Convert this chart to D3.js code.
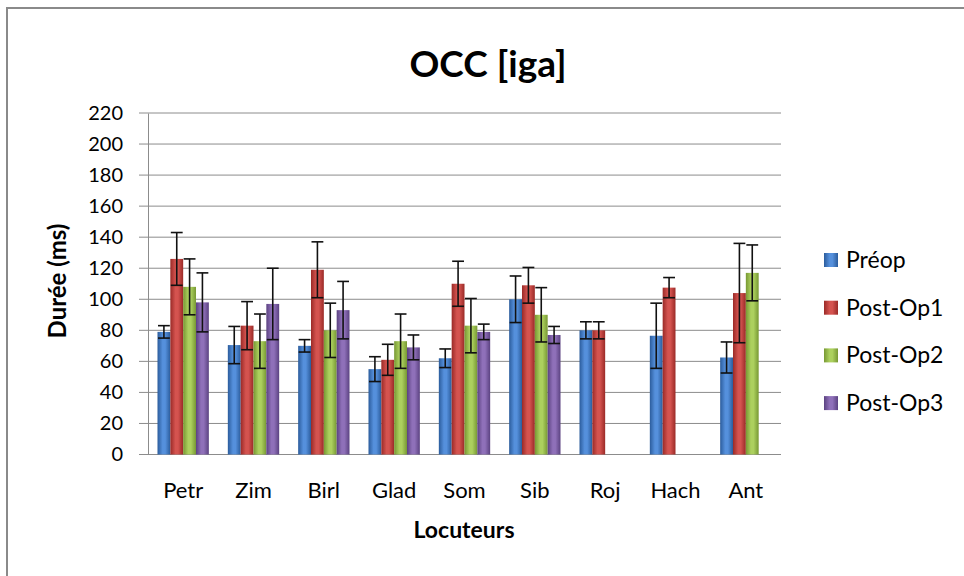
<!DOCTYPE html>
<html>
<head>
<meta charset="utf-8">
<script src="https://cdn.jsdelivr.net/npm/d3@7"></script>
<style>
  html, body { margin: 0; padding: 0; background: #fff; overflow: hidden; }
  svg { display: block; }
  text { font-family: Lato, "Open Sans", sans-serif; fill: #000; }
</style>
</head>
<body>
<div id="chart"></div>
<script>
// Data
const categories = ["Petr", "Zim", "Birl", "Glad", "Som", "Sib", "Roj", "Hach", "Ant"];
const series = ["Préop", "Post-Op1", "Post-Op2", "Post-Op3"];

const preop      = [79, 70.5, 70, 55, 62, 100, 80, 76.5, 62.5];
const preopErr   = [4, 12, 4, 8, 6, 15, 5.5, 21, 10];
const postOp1    = [126, 83, 119, 61, 110, 109, 80, 107.5, 104];
const postOp1Err = [17, 15.5, 18, 10, 14.5, 11.5, 5.5, 6.5, 32];
const postOp2    = [108, 73, 80, 73, 83, 90, null, null, 117];
const postOp2Err = [18, 17.5, 17.5, 17.5, 17.5, 17.5, null, null, 18];
const postOp3    = [98, 97, 93, 69, 79, 77, null, null, null];
const postOp3Err = [19, 23, 18.5, 8, 5, 5.5, null, null, null];

const yTicks = [0, 20, 40, 60, 80, 100, 120, 140, 160, 180, 200, 220];

const values = [preop, postOp1, postOp2, postOp3];
const errors = [preopErr, postOp1Err, postOp2Err, postOp3Err];

// colours: [edge, centre]
const colors = [
    ["#2b5c9c", "#5590dc"],
    ["#9a2a27", "#d4534f"],
    ["#779833", "#acd05e"],
    ["#5b4281", "#8f70b9"]
];

// Dimensions
const width = 964;
const height = 576;
const plotLeft = 148;
const plotRight = 781;
const plotTop = 113;
const plotBottom = 454.5;

const svg = d3.select("#chart")
    .append("svg")
    .attr("width", width)
    .attr("height", height);

// gradients for the cylinder look
const defs = svg.append("defs");
colors.forEach((c, i) => {
    const g = defs.append("linearGradient")
        .attr("id", "grad" + i)
        .attr("x1", "0%").attr("x2", "100%")
        .attr("y1", "0%").attr("y2", "0%");
    g.append("stop").attr("offset", "0%").attr("stop-color", c[0]);
    g.append("stop").attr("offset", "40%").attr("stop-color", c[1]);
    g.append("stop").attr("offset", "60%").attr("stop-color", c[1]);
    g.append("stop").attr("offset", "100%").attr("stop-color", c[0]);
});

// outer frame (only top and left edges are visible in the crop)
svg.append("path")
    .attr("d", `M7,${height} L7,8 L${width},8`)
    .attr("fill", "none")
    .attr("stroke", "#8a8a8a")
    .attr("stroke-width", 2);

// Title
svg.append("text")
    .attr("x", 488)
    .attr("y", 77)
    .attr("text-anchor", "middle")
    .attr("font-size", "37px")
    .attr("font-weight", "bold")
    .text("OCC [iga]");

// Scales (absolute pixel ranges)
const x0 = d3.scaleBand()
    .domain(categories)
    .range([plotLeft, plotRight])
    .paddingInner(0.27)
    .paddingOuter(0.135);

const x1 = d3.scaleBand()
    .domain(series)
    .range([0, x0.bandwidth()]);

const yScale = d3.scaleLinear()
    .domain([0, 220])
    .range([plotBottom, plotTop]);

// gridlines
svg.append("g").attr("class", "grid")
    .selectAll("line")
    .data(yTicks)
    .join("line")
    .attr("x1", plotLeft - 9)
    .attr("x2", plotRight)
    .attr("y1", d => yScale(d))
    .attr("y2", d => yScale(d))
    .attr("stroke", "#8c8c8c")
    .attr("stroke-width", 1);

// y axis line
const gYAxis = svg.append("g")
    .attr("transform", `translate(${plotLeft}, 0)`)
    .call(d3.axisLeft(yScale).tickValues(yTicks).tickSize(0).tickFormat(""));
gYAxis.select(".domain").attr("stroke", "#8c8c8c");

// y tick labels
svg.append("g").attr("class", "y-labels")
    .selectAll("text")
    .data(yTicks)
    .join("text")
    .attr("x", plotLeft - 25)
    .attr("y", d => yScale(d))
    .attr("dy", "0.34em")
    .attr("text-anchor", "end")
    .attr("font-size", "20px")
    .text(d => d);

// x axis labels
svg.append("g")
    .selectAll("text")
    .data(categories)
    .join("text")
    .attr("x", d => x0(d) + x0.bandwidth() / 2)
    .attr("y", plotBottom + 43)
    .attr("text-anchor", "middle")
    .attr("font-size", "22px")
    .text(d => d);

// bars
const barData = [];
categories.forEach((cat, ci) => {
    series.forEach((s, si) => {
        const v = values[si][ci];
        if (v != null) {
            barData.push({ cat, s, si, value: v, err: errors[si][ci] });
        }
    });
});

const gChart = svg.append("g").attr("class", "chart");

gChart.selectAll("rect.bar")
    .data(barData)
    .join("rect")
    .attr("class", "bar")
    .attr("x", d => x0(d.cat) + x1(d.s))
    .attr("y", d => yScale(d.value))
    .attr("width", x1.bandwidth())
    .attr("height", d => yScale(0) - yScale(d.value))
    .attr("fill", d => `url(#grad${d.si})`);

// error bars
const cx = d => x0(d.cat) + x1(d.s) + x1.bandwidth() / 2;
const capHalf = x1.bandwidth() / 2 - 0.5;
const gErr = gChart.selectAll("g.err")
    .data(barData)
    .join("g")
    .attr("class", "err")
    .attr("stroke", "#111")
    .attr("stroke-width", 1.6);

gErr.append("line")
    .attr("x1", cx)
    .attr("x2", cx)
    .attr("y1", d => yScale(d.value + d.err))
    .attr("y2", d => yScale(d.value - d.err));

[1, -1].forEach(sign => {
    gErr.append("line")
        .attr("x1", d => cx(d) - capHalf)
        .attr("x2", d => cx(d) + capHalf)
        .attr("y1", d => yScale(d.value + sign * d.err))
        .attr("y2", d => yScale(d.value + sign * d.err));
});

// axis titles
svg.append("text")
    .attr("x", 66)
    .attr("y", 281)
    .attr("transform", "rotate(-90, 66, 281)")
    .attr("text-anchor", "middle")
    .attr("font-size", "24px")
    .attr("font-weight", "bold")
    .text("Durée (ms)");

svg.append("text")
    .attr("x", 464)
    .attr("y", 538)
    .attr("text-anchor", "middle")
    .attr("font-size", "23px")
    .attr("font-weight", "bold")
    .text("Locuteurs");

// legend
const legendY = d3.scalePoint()
    .domain(series)
    .range([260, 260 + 3 * 47.7]);

const legend = svg.append("g").attr("class", "legend");

legend.selectAll("rect")
    .data(series)
    .join("rect")
    .attr("x", 824)
    .attr("y", d => legendY(d) - 7)
    .attr("width", 14)
    .attr("height", 14)
    .attr("fill", (d, i) => `url(#grad${i})`);

legend.selectAll("text")
    .data(series)
    .join("text")
    .attr("x", 846)
    .attr("y", d => legendY(d))
    .attr("dy", "0.35em")
    .attr("font-size", "23px")
    .text(d => d);
</script>
</body>
</html>
